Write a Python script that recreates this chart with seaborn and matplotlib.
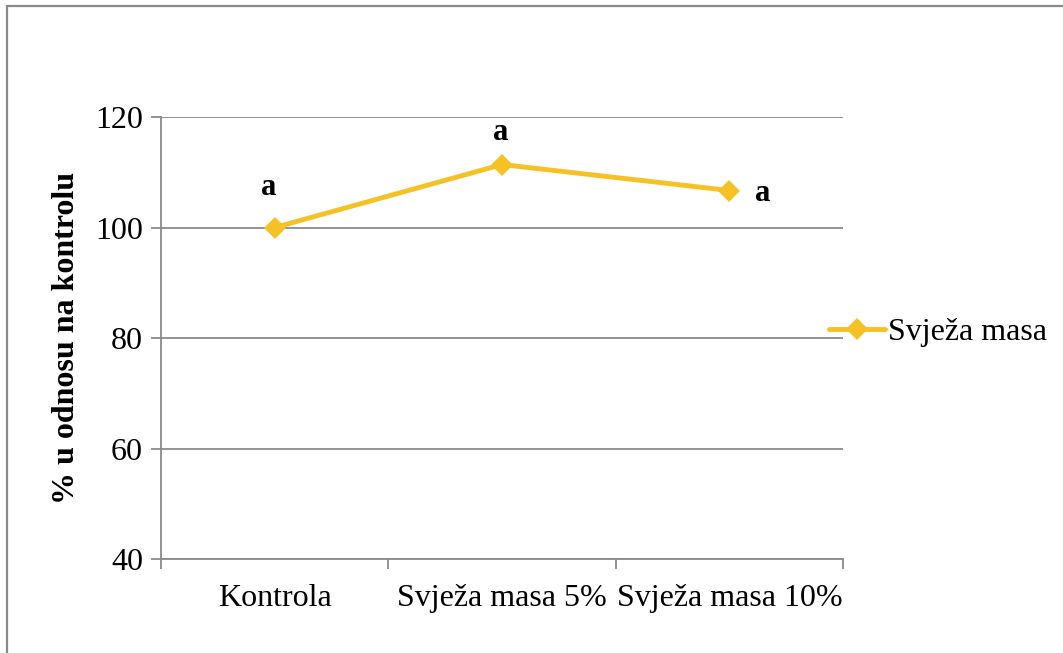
import numpy as np
import pandas as pd
import matplotlib
matplotlib.use("Agg")
import matplotlib.pyplot as plt
from matplotlib.lines import Line2D
import seaborn as sns

# Data
categories = ["Kontrola", "Svježa masa 5%", "Svježa masa 10%"]
values = [100.0, 111.4, 106.7]
letters = ["a", "a", "a"]
series_name = "Svježa masa"
y_ticks = [40, 60, 80, 100, 120]

line_color = "#F6C124"
grid_color = "#8A8A8A"

# Style
sns.set_style("white")
plt.rcParams["font.family"] = ["Liberation Serif", "DejaVu Serif"]
plt.rcParams["text.color"] = "black"
plt.rcParams["xtick.labelcolor"] = "black"
plt.rcParams["ytick.labelcolor"] = "black"
plt.rcParams["axes.labelcolor"] = "black"

df = pd.DataFrame({"category": categories, "value": values})

fig = plt.figure(figsize=(10.63, 6.53), dpi=100)
ax = fig.add_axes([0.1515, 0.1439, 0.6416, 0.6769])

# Plot line with diamond markers
sns.lineplot(data=df, x="category", y="value", ax=ax, color=line_color,
             linewidth=3.5, marker="D", markersize=11.5, markeredgewidth=0,
             sort=False, zorder=5)

# Significance letters above the points
letter_offsets = [(-6, 40), (-1, 32), (33, -3)]
for i, (lab, off) in enumerate(zip(letters, letter_offsets)):
    ax.annotate(lab, (i, values[i]), xytext=off, textcoords="offset pixels",
                ha="center", va="center", fontsize=22, fontweight="bold",
                color="black")

# Axes limits and ticks
ax.set_ylim(40, 120)
ax.set_xlim(-0.5, len(categories) - 0.5)
ax.set_yticks(y_ticks)
ax.tick_params(axis="y", labelsize=23, direction="out", length=7, width=1.3,
               color=grid_color, pad=6, left=True)
ax.yaxis.grid(True, color=grid_color, linewidth=1.3)
ax.xaxis.grid(False)

# Category ticks at bin edges, labels at bin centers
ax.set_xticks(np.arange(len(categories) + 1) - 0.5)
ax.set_xticklabels([])
ax.set_xticks(np.arange(len(categories)), minor=True)
ax.set_xticklabels(categories, minor=True)
ax.tick_params(axis="x", which="major", direction="out", length=7, width=1.3,
               color=grid_color, bottom=True)
ax.tick_params(axis="x", which="minor", length=0, labelsize=23, pad=18)

for side in ["top", "right"]:
    ax.spines[side].set_visible(False)
for side in ["left", "bottom"]:
    ax.spines[side].set_color(grid_color)
    ax.spines[side].set_linewidth(1.3)

ax.set_xlabel("")
ax.set_ylabel("% u odnosu na kontrolu", fontsize=23, fontweight="bold", labelpad=10)

# Legend on the right
handle = Line2D([], [], color=line_color, linewidth=3.5, marker="D",
                markersize=11.5, markeredgewidth=0)
fig.legend([handle], [series_name], loc="center left",
           bbox_to_anchor=(0.7526, 0.491), frameon=False, fontsize=23,
           handlelength=1.75, handletextpad=0.1)

# Outer chart border (top and left visible)
fig.add_artist(Line2D([0.0062, 1.0], [0.9905, 0.9905], color=grid_color,
                      linewidth=1.6, transform=fig.transFigure))
fig.add_artist(Line2D([0.0062, 0.0062], [0.0, 0.9905], color=grid_color,
                      linewidth=1.6, transform=fig.transFigure))

fig.savefig("out.png", dpi=100)
